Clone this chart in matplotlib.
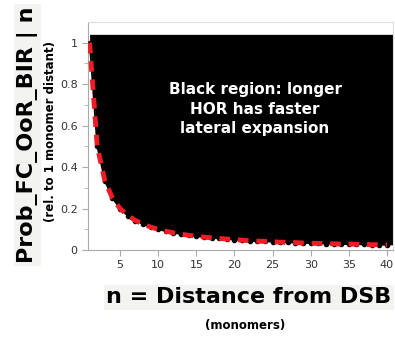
import matplotlib
matplotlib.use("Agg")
import matplotlib.pyplot as plt
import numpy as np

# distance from DSB (monomers) and probability relative to n = 1
n = list(range(1, 41))
prob = [1.0, 0.5, 0.335, 0.25, 0.2, 0.165, 0.142, 0.125, 0.111, 0.1,
        0.091, 0.083, 0.077, 0.071, 0.067, 0.062, 0.059, 0.056, 0.053, 0.05,
        0.048, 0.045, 0.043, 0.042, 0.04, 0.038, 0.037, 0.036, 0.034, 0.033,
        0.032, 0.031, 0.030, 0.029, 0.028, 0.028, 0.027, 0.026, 0.026, 0.025]
# reference 1/n curve (red dashed)
ref = [1.0, 0.5, 0.333, 0.25, 0.2, 0.167, 0.143, 0.125, 0.111, 0.1,
       0.091, 0.083, 0.077, 0.071, 0.067, 0.0625, 0.059, 0.056, 0.053, 0.05,
       0.048, 0.045, 0.043, 0.042, 0.04, 0.038, 0.037, 0.036, 0.034, 0.033,
       0.032, 0.031, 0.030, 0.029, 0.029, 0.028, 0.027, 0.026, 0.026, 0.025]
xticks = [5, 10, 15, 20, 25, 30, 35, 40]
yticks = [0, 0.2, 0.4, 0.6, 0.8, 1]
fill_top = 1.04

fig = plt.figure(figsize=(3.95, 3.37), dpi=100)
ax = fig.add_axes([0.223, 0.258, 0.772, 0.677])

x_fill = n + [41]
y_fill = prob + [prob[-1]]
ax.fill_between(x_fill, y_fill, fill_top, color='black', lw=0)
ax.plot(n, prob, color='black', lw=1.2)
ax.scatter(n, prob, s=9, color='black', zorder=3)
ax.plot(n, ref, color='#ee1c25', lw=3.5, dashes=(2.2, 1.6), zorder=4)

ax.text(22.7, 0.68, "Black region: longer\nHOR has faster\nlateral expansion",
        color='white', fontsize=11, fontweight='bold', ha='center', va='center',
        linespacing=1.35)

ax.set_xlim(0.8, 40.8)
ax.set_ylim(0, 1.1)
ax.set_xticks(xticks)
ax.set_yticks(yticks)
ax.set_yticklabels(['0', '0.2', '0.4', '0.6', '0.8', '1'])
ax.set_yticks(np.arange(0.1, 1.1, 0.2), minor=True)
ax.tick_params(labelsize=8, colors='#333333', color='#aaaaaa', length=4, width=0.8)
ax.tick_params(which='minor', length=3, color='#aaaaaa')
for side in ['top', 'right']:
    ax.spines[side].set_color('#dddddd')
for side in ['left', 'bottom']:
    ax.spines[side].set_color('#aaaaaa')

fig.text(0.07, 0.60, "Prob_FC_OoR_BIR | n", rotation=90, fontsize=16,
         fontweight='bold', ha='center', va='center',
         bbox=dict(facecolor='#f3f3f1', edgecolor='none', pad=2))
fig.text(0.127, 0.61, "(rel. to 1 monomer distant)", rotation=90, fontsize=8.5,
         fontweight='bold', ha='center', va='center')
fig.text(0.63, 0.118, "n = Distance from DSB", fontsize=16, fontweight='bold',
         ha='center', va='center',
         bbox=dict(facecolor='#f3f3f1', edgecolor='none', pad=2))
fig.text(0.62, 0.035, "(monomers)", fontsize=8.5, fontweight='bold',
         ha='center', va='center')

fig.savefig("out.png", dpi=100)
